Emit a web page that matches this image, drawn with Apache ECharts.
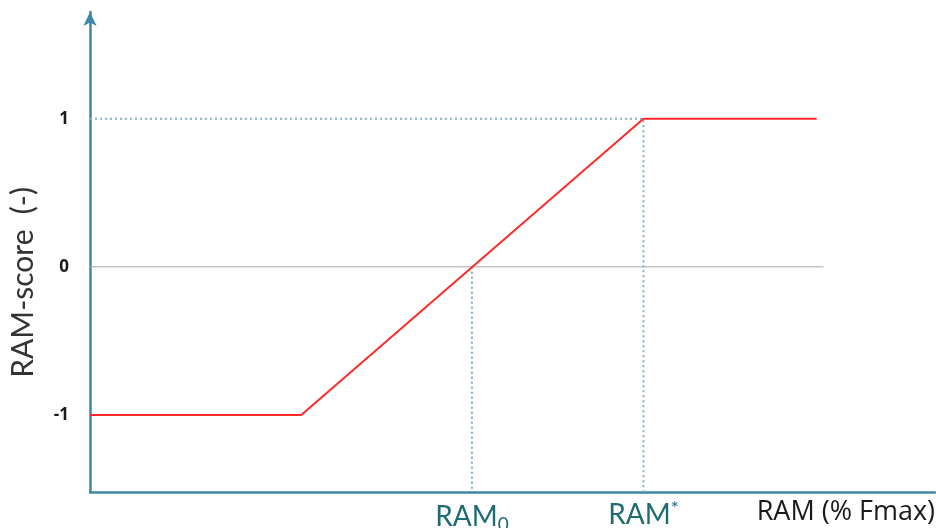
<!DOCTYPE html>
<html>
<head>
<meta charset="utf-8">
<script src="https://cdn.jsdelivr.net/npm/echarts@6/dist/echarts.min.js"></script>
<style>html,body{margin:0;padding:0;background:#fff}#c{width:936px;height:528px}</style>
</head>
<body>
<div id="c"></div>
<script>
// RAM-score curve (x in % Fmax-like arbitrary units, y score)
var scoreX = [0, 25, 65.5, 86];
var scoreY = [-1, -1, 1, 1];
// reference points
var ram0 = 45.2;
var ramStar = 65.5;
var zeroLineEnd = 86.8;
// tick labels
var yTicks = [-1, 0, 1];
var xTickValues = [ram0, ramStar];
var xAxisTitle = 'RAM (% Fmax)';
var yAxisTitle = 'RAM-score  (-)';

var axisColor = '#3f87a6';
var dotColor = '#7fb0c6';
var tealText = '#1f6b72';

var chart = echarts.init(document.getElementById('c'), null, {renderer: 'canvas'});
var curve = scoreX.map(function (x, i) { return [x, scoreY[i]]; });

chart.setOption({
  animation: false,
  backgroundColor: '#fff',
  grid: {left: 90, right: 1, top: 12, bottom: 36, containLabel: false, outerBoundsMode: 'none'},
  xAxis: {
    type: 'value', min: 0, max: 100,
    axisLine: {show: true, onZero: false, lineStyle: {color: axisColor, width: 2.5}},
    axisTick: {show: false},
    splitLine: {show: false},
    axisLabel: {
      customValues: xTickValues,
      margin: 7,
      formatter: function (v) {
        if (Math.abs(v - ram0) < 0.01) return '{b|RAM}{sub|0}';
        return '{b|RAM}{sup|*}';
      },
      rich: {
        b: {fontFamily: 'Lato', fontSize: 28, color: tealText},
        sub: {fontFamily: 'Lato', fontSize: 19, color: tealText, padding: [16, 0, 0, 0]},
        sup: {fontFamily: 'Lato', fontSize: 19, color: tealText, padding: [0, 0, 12, 0]}
      }
    },
    name: xAxisTitle,
    nameLocation: 'end',
    nameGap: 0,
    nameTextStyle: {fontFamily: 'Open Sans', fontSize: 27, color: '#1a1a1a', align: 'right', verticalAlign: 'top', padding: [7, 0, 0, 0]}
  },
  yAxis: {
    type: 'value', min: -1.52, max: 1.72,
    axisLine: {show: true, onZero: false, symbol: ['none', 'arrow'], symbolSize: [10, 14], lineStyle: {color: axisColor, width: 2.5}},
    axisTick: {show: false},
    splitLine: {show: false},
    axisLabel: {
      customValues: yTicks,
      margin: 21,
      fontFamily: 'Open Sans', fontSize: 17, fontWeight: 'bold', color: '#1a1a1a'
    }
  },
  graphic: [{
    type: 'text', left: 8, top: 187, rotation: Math.PI / 2,
    style: {text: yAxisTitle, fontFamily: 'Lato', fontSize: 30, fill: '#333'}
  }],
  series: [
    {type: 'line', data: [[0, 0], [zeroLineEnd, 0]], symbol: 'none', silent: true,
      lineStyle: {color: '#a6a6a6', width: 1}},
    {type: 'line', data: [[0, 1], [ramStar, 1], [ramStar, -1.52]], symbol: 'none', silent: true,
      lineStyle: {color: dotColor, width: 2, type: [2, 3]}},
    {type: 'line', data: [[ram0, 0], [ram0, -1.52]], symbol: 'none', silent: true,
      lineStyle: {color: dotColor, width: 2, type: [2, 3]}},
    {type: 'line', data: curve, symbol: 'none', lineStyle: {color: '#ff2b2b', width: 2}}
  ]
});
</script>
</body>
</html>
